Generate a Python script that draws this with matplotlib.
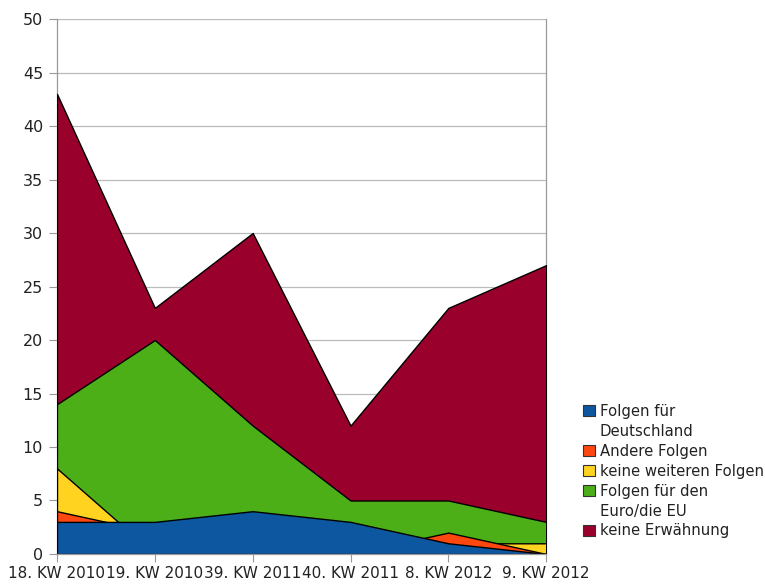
import matplotlib.pyplot as plt
import matplotlib.patches as mpatches
import numpy as np

plt.rcParams['font.family'] = ['DejaVu Sans']

# datos (áreas superpuestas, cada serie desde 0)
wochen = ['18. KW 2010', '19. KW 2010', '39. KW 2011', '40. KW 2011', '8. KW 2012', '9. KW 2012']
deutschland = [3, 3, 4, 3, 1, 0]
andere = [4, 2, 0, 0, 2, 0]
keine_weiteren = [8, 0, 0, 0, 1, 1]
euro_eu = [14, 20, 12, 5, 5, 3]
keine_erwaehnung = [43, 23, 30, 12, 23, 27]

etiquetas = ['Folgen für\nDeutschland', 'Andere Folgen', 'keine weiteren Folgen',
             'Folgen für den\nEuro/die EU', 'keine Erwähnung']
colores = ['#0d56a0', '#ff4710', '#ffd320', '#4caf17', '#9a002c']
series = [deutschland, andere, keine_weiteren, euro_eu, keine_erwaehnung]

fig = plt.figure(figsize=(7.65, 5.85), dpi=100)
ax = fig.add_axes([0.0745, 0.053, 0.6395, 0.9145])

x = np.arange(len(wochen))
# se dibuja de atrás hacia adelante: la primera serie queda al frente
for i in range(len(series) - 1, -1, -1):
    ax.fill_between(x, 0, series[i], facecolor=colores[i], edgecolor='black',
                    linewidth=1, zorder=3 + (len(series) - i))

ax.set_xlim(0, len(wochen) - 1)
ax.set_ylim(0, 50)
ax.set_yticks(range(0, 51, 5))
ax.set_xticks(x)
ax.set_xticklabels(wochen, fontsize=11)
ax.tick_params(axis='y', labelsize=11.5, length=6, color='#999999', pad=4, labelcolor='#222222')
ax.tick_params(axis='x', length=6, color='#999999', pad=3, labelcolor='#222222')
ax.yaxis.grid(True, color='#bbbbbb', linewidth=0.9, zorder=0)
ax.set_axisbelow(True)
ax.spines['top'].set_visible(False)
for lado in ['left', 'bottom', 'right']:
    ax.spines[lado].set_color('#999999')
    ax.spines[lado].set_linewidth(0.9)
ax.spines['bottom'].set_zorder(20)

# leyenda: una entrada por línea, el cuadro solo en la primera línea
handles, labels = [], []
for c, et in zip(colores, etiquetas):
    lineas = et.split('\n')
    handles.append(mpatches.Patch(facecolor=c, edgecolor='#333333', linewidth=0.8))
    labels.append(lineas[0])
    for resto in lineas[1:]:
        handles.append(mpatches.Patch(facecolor='none', edgecolor='none'))
        labels.append(resto)

leg = fig.legend(handles, labels, loc='upper left', bbox_to_anchor=(0.753, 0.322),
                 frameon=False, fontsize=10.7, handlelength=0.75, handleheight=0.75,
                 handletextpad=0.35, labelspacing=0.33, borderpad=0)
for t in leg.get_texts():
    t.set_color('#222222')

fig.savefig('out.png', dpi=100)
